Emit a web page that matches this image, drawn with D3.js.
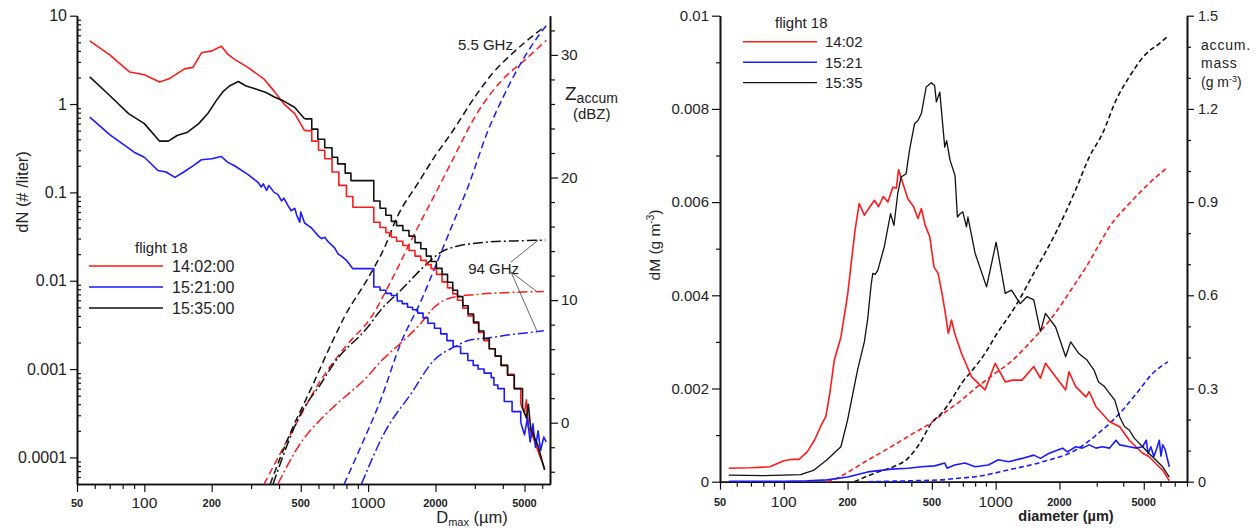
<!DOCTYPE html>
<html>
<head>
<meta charset="utf-8">
<script src="https://cdn.jsdelivr.net/npm/d3@7"></script>
<style>
body{margin:0;background:#fff;}
svg{font-family:"Liberation Sans",Arial,sans-serif;}
.axis path,.axis line{stroke:#111;}
</style>
</head>
<body>
<svg id="chart" width="1258" height="530"></svg>
<script>
// ---- left panel: number concentration (#/liter) vs Dmax (um)
var dnRed = [[57,5.2],[70,3.6],[86,2.3],[100,2.15],[117,1.78],[130,1.95],[151,2.5],[165,2.6],[180,3.8],[200,4.0],[221,4.5],[235,3.7],[253,3.2],[290,2.6],[344,1.9],[380,1.4],[421,1.0],[470,0.78],[520,0.5],[560,0.38],[600,0.3],[640,0.24],[690,0.17],[740,0.12],[800,0.09],[855,0.068],[1032,0.068],[1060,0.046],[1130,0.04],[1200,0.035],[1270,0.031],[1340,0.028],[1430,0.025],[1523,0.022],[1620,0.019],[1720,0.017],[1820,0.0152],[1913,0.0137],[2020,0.0118],[2140,0.0097],[2264,0.0083],[2390,0.0071],[2510,0.006],[2650,0.0049],[2800,0.004],[2960,0.0033],[3120,0.0026],[3290,0.0021],[3480,0.0017],[3700,0.0014],[3930,0.0011],[4200,0.00087],[4500,0.0006],[4810,0.0004],[5000,0.00032],[5100,0.00045],[5200,0.00022],[5510,0.00016],[5800,0.00011],[6150,0.000075]];
var dnBlue = [[57,0.71],[70,0.45],[90,0.285],[100,0.25],[115,0.177],[125,0.17],[137,0.148],[150,0.17],[165,0.2],[180,0.234],[200,0.24],[221,0.255],[235,0.22],[253,0.2],[290,0.16],[322,0.13],[333,0.115],[340,0.125],[352,0.105],[360,0.12],[380,0.1],[395,0.095],[410,0.08],[420,0.086],[440,0.07],[453,0.062],[470,0.066],[480,0.055],[495,0.046],[500,0.06],[520,0.045],[540,0.042],[556,0.04],[576,0.036],[600,0.032],[620,0.03],[640,0.031],[660,0.028],[707,0.0237],[735,0.02],[760,0.019],[800,0.017],[855,0.0137],[1032,0.0137],[1060,0.0085],[1130,0.0078],[1200,0.0072],[1270,0.0068],[1350,0.0059],[1420,0.0055],[1500,0.005],[1580,0.0047],[1665,0.0043],[1760,0.0038],[1850,0.0033],[1980,0.0029],[2110,0.0025],[2250,0.0021],[2400,0.0018],[2590,0.0015],[2790,0.00125],[2950,0.0011],[3100,0.001],[3300,0.0009],[3550,0.0008],[3650,0.00066],[3800,0.0006],[4060,0.00043],[4400,0.00033],[4810,0.00025],[5000,0.00018],[5150,0.00028],[5300,0.00015],[5450,0.00024],[5600,0.00013],[5750,0.0002],[5900,0.00012],[6100,0.00017],[6250,0.00015]];
var dnBlack = [[57,2.03],[70,1.25],[85,0.78],[100,0.6],[117,0.38],[128,0.38],[140,0.44],[156,0.48],[175,0.6],[192,0.78],[210,1.1],[224,1.37],[240,1.6],[263,1.8],[285,1.6],[310,1.5],[350,1.35],[381,1.2],[420,1.08],[469,0.92],[520,0.68],[560,0.52],[596,0.4],[640,0.32],[690,0.25],[731,0.21],[790,0.165],[838,0.136],[1032,0.136],[1060,0.08],[1130,0.066],[1200,0.055],[1270,0.047],[1340,0.042],[1430,0.037],[1523,0.032],[1620,0.027],[1720,0.023],[1820,0.019],[1913,0.0165],[2020,0.0138],[2140,0.0118],[2264,0.0096],[2390,0.0078],[2510,0.0066],[2650,0.0052],[2800,0.0042],[2960,0.0034],[3120,0.0027],[3290,0.0022],[3480,0.0017],[3700,0.0014],[3930,0.0011],[4200,0.00085],[4500,0.0006],[4900,0.00036],[5100,0.00028],[5200,0.0004],[5330,0.00021],[5730,0.000138],[6150,0.000072]];

// accumulated reflectivity (dBZ): 5.5 GHz dashed, 94 GHz dash-dot
var z55Red = [[343,-5],[470,-0.3],[616,3.5],[800,6.3],[1032,8.6],[1270,11.6],[1560,14.9],[1985,18.6],[2350,21.2],[3060,25.2],[3900,27.8],[5100,29.7],[6260,31.2]];
var z55Blue = [[782,-5],[900,-2.5],[1140,1.9],[1400,6.5],[1730,10],[2045,13.2],[2400,16.3],[2790,19.2],[3430,23.8],[4000,26.5],[4670,28.9],[5400,30.8],[6260,32.4]];
var z55Black = [[365,-5],[450,-0.8],[550,2.6],[700,6.8],[782,8.6],[1000,11.8],[1185,14.3],[1350,16.8],[1665,19.5],[2000,21.8],[2350,23.6],[3060,26.8],[3600,28.5],[4340,30],[5000,31],[6150,32.3]];
var z94Red = [[395,-5],[502,-1.6],[616,0.3],[707,1.35],[997,3.8],[1140,5.0],[1400,6.5],[1700,8.0],[1970,9.4],[2350,10.2],[3000,10.45],[4000,10.6],[6100,10.7]];
var z94Blue = [[934,-5],[1185,-0.8],[1560,2.4],[1970,5.1],[2440,6.2],[2800,6.7],[3550,6.95],[4200,7.15],[5510,7.4],[6100,7.5]];
var z94Black = [[376,-5],[502,0.8],[616,3.2],[707,4.9],[997,7.8],[1140,9.2],[1400,10.8],[1840,13.0],[2110,13.9],[2500,14.4],[2880,14.6],[3500,14.75],[5000,14.85],[6200,14.9]];

// ---- right panel: mass distribution (g m-3) vs diameter (um)
var dmRed = [[55,0.00029],[70,0.0003],[86,0.00032],[100,0.00045],[110,0.00048],[118,0.00048],[129,0.00064],[140,0.0009],[149,0.00118],[158,0.0014],[165,0.0019],[173,0.0026],[186,0.0031],[200,0.004],[207,0.0046],[217,0.0054],[227,0.00597],[240,0.00572],[255,0.0059],[268,0.00604],[280,0.0059],[295,0.00612],[310,0.006],[327,0.00632],[340,0.0063],[348,0.0067],[365,0.0064],[385,0.00607],[410,0.0059],[430,0.00565],[446,0.00586],[465,0.0055],[489,0.00525],[512,0.0046],[535,0.00447],[555,0.0041],[575,0.0037],[598,0.00318],[619,0.00347],[641,0.00318],[690,0.00275],[770,0.00225],[891,0.00197],[995,0.00254],[1110,0.00214],[1200,0.00218],[1332,0.00218],[1513,0.00247],[1627,0.00222],[1718,0.00254],[1918,0.00225],[2140,0.00197],[2218,0.00236],[2387,0.00204],[2667,0.00182],[2766,0.00193],[2974,0.00161],[3440,0.00129],[3850,0.00118],[4270,0.00089],[4940,0.00061],[5290,0.00054],[5690,0.00039],[6140,0.00025],[6600,0.00002]];
var dmBlue = [[55,0.00001],[100,0.00001],[129,0.00002],[160,0.00004],[200,0.0001],[249,0.00021],[322,0.00027],[385,0.00029],[446,0.00032],[516,0.00034],[575,0.0004],[590,0.00029],[640,0.00036],[716,0.0004],[800,0.00032],[924,0.00036],[1030,0.00047],[1150,0.00043],[1332,0.0005],[1513,0.00057],[1627,0.0005],[1788,0.00061],[2070,0.00072],[2180,0.00064],[2387,0.00075],[2565,0.00072],[2766,0.00079],[2974,0.00072],[3190,0.00075],[3440,0.00072],[3700,0.00089],[3850,0.00079],[4270,0.00075],[4620,0.00072],[4940,0.00075],[5140,0.00089],[5240,0.0006],[5400,0.00075],[5580,0.00054],[5750,0.0007],[5920,0.00089],[6030,0.00055],[6140,0.00079],[6300,0.0007],[6600,0.00032]];
var dmBlack = [[55,0.00014],[80,0.00013],[100,0.00014],[120,0.00015],[139,0.00025],[160,0.00047],[186,0.00075],[200,0.00132],[212,0.0019],[223,0.0024],[240,0.003],[249,0.0035],[258,0.0042],[263,0.00447],[270,0.00445],[278,0.00454],[298,0.00504],[319,0.00575],[331,0.0055],[345,0.00618],[358,0.00654],[378,0.00661],[392,0.00711],[414,0.00768],[430,0.00775],[446,0.0079],[470,0.00847],[497,0.00856],[515,0.0085],[525,0.00815],[545,0.00836],[575,0.00718],[587,0.00732],[609,0.0069],[643,0.00657],[660,0.00568],[680,0.00575],[700,0.00579],[728,0.00547],[740,0.00568],[800,0.0049],[906,0.00418],[1005,0.00514],[1110,0.00404],[1188,0.00411],[1305,0.00382],[1405,0.00397],[1513,0.0039],[1627,0.00322],[1718,0.00361],[1918,0.00332],[2140,0.00268],[2260,0.003],[2470,0.00275],[2700,0.00261],[2915,0.00239],[3058,0.00214],[3250,0.00205],[3440,0.0019],[3650,0.00175],[3850,0.00139],[4060,0.00118],[4270,0.00111],[4520,0.00093],[4940,0.00075],[5290,0.00061],[5690,0.00047],[6140,0.00032],[6600,0.0001]];

// accumulated mass (g m-3)
var accRed = [[160,0],[180,0.012],[200,0.03],[250,0.07],[322,0.113],[400,0.152],[497,0.19],[555,0.215],[690,0.263],[800,0.3],[1000,0.35],[1150,0.38],[1490,0.456],[1850,0.53],[2387,0.64],[2667,0.69],[3058,0.76],[3440,0.82],[4270,0.895],[5290,0.96],[6500,1.013]];
var accBlue = [[250,0],[400,0.003],[555,0.006],[690,0.012],[800,0.016],[1150,0.038],[1660,0.064],[2387,0.102],[3058,0.156],[3850,0.22],[4620,0.284],[5520,0.349],[6500,0.386]];
var accBlack = [[215,0],[268,0.027],[320,0.045],[385,0.075],[440,0.125],[497,0.188],[555,0.22],[600,0.25],[690,0.316],[800,0.37],[891,0.413],[1000,0.47],[1235,0.563],[1538,0.68],[1918,0.8],[2387,0.94],[2766,1.045],[3190,1.12],[3700,1.228],[4270,1.303],[5140,1.378],[5920,1.41],[6500,1.434]];

// tick labels
var xMajor = [50,100,200,500,1000,2000,5000];
var xBig = [100,1000];
var dnMajor = [0.0001,0.001,0.01,0.1,1,10];
var zMajor = [0,10,20,30];
var dmMajor = [0,0.002,0.004,0.006,0.008,0.01];
var accMajor = [0,0.3,0.6,0.9,1.2,1.5];

var legendLeft = ['14:02:00','15:21:00','15:35:00'];
var legendRight = ['14:02','15:21','15:35'];
var colors = ['#ff1a1a','#1a1aff','#111'];

var svg = d3.select('#chart');

function logMinors(lo, hi){
	var out = [];
	for(var e = Math.floor(Math.log10(lo)); e <= Math.ceil(Math.log10(hi)); e++){
		for(var m = 1; m < 10; m++){
			var v = +(m * Math.pow(10, e)).toPrecision(3);
			if(v >= lo && v <= hi) out.push(v);
		}
	}
	return out;
}

function styleAxis(g, w){
	g.attr('class','axis');
	g.selectAll('path').attr('stroke-width', w || 1.6);
	g.selectAll('line').attr('stroke-width', 1.2);
}

function xLabels(g, scale, y){
	g.selectAll('text.xl').data(xMajor).enter().append('text')
		.attr('class','xl')
		.attr('x', function(d){ return scale(d); })
		.attr('y', function(d){ return xBig.indexOf(d) >= 0 ? y + 1 : y; })
		.attr('text-anchor','middle')
		.attr('font-size', function(d){ return xBig.indexOf(d) >= 0 ? 15.5 : 11; })
		.attr('font-weight', function(d){ return xBig.indexOf(d) >= 0 ? 'normal' : 'bold'; })
		.attr('fill','#222')
		.text(function(d){ return d; });
}

/* ================= left panel ================= */
var xL = d3.scaleLog().domain([50, 6500]).range([77, 550]);
var yN = d3.scaleLog().domain([5e-5, 10]).range([484, 15.7]);
var yZ = d3.scaleLinear().domain([-5, 33.2]).range([484, 15.7]);

var gL = svg.append('g');

var xMinL = logMinors(50, 6500).filter(function(d){ return xMajor.indexOf(d) < 0; });
gL.append('g').attr('transform','translate(0,484)')
	.call(d3.axisBottom(xL).tickValues(xMinL).tickSize(5).tickSizeOuter(0).tickFormat(''))
	.call(styleAxis);
gL.append('g').attr('transform','translate(0,484)')
	.call(d3.axisBottom(xL).tickValues(xMajor).tickSize(8).tickSizeOuter(0).tickFormat(''))
	.call(styleAxis);
xLabels(gL, xL, 507);

var yMinL = logMinors(5e-5, 10).filter(function(d){ return dnMajor.indexOf(d) < 0; });
gL.append('g').attr('transform','translate(77,0)')
	.call(d3.axisLeft(yN).tickValues(yMinL).tickSize(-4).tickSizeOuter(0).tickFormat(''))
	.call(styleAxis);
gL.append('g').attr('transform','translate(77,0)')
	.call(d3.axisLeft(yN).tickValues(dnMajor).tickSize(7).tickSizeOuter(0).tickPadding(3)
		.tickFormat(function(d){ return String(d); }))
	.call(styleAxis)
	.selectAll('text').attr('font-size', 16).attr('fill','#222').attr('font-family','"Liberation Sans",Arial,sans-serif');

var zMinor = d3.range(-4, 33, 2).filter(function(d){ return d % 10 !== 0; });
gL.append('g').attr('transform','translate(550,0)')
	.call(d3.axisRight(yZ).tickValues(zMinor).tickSize(5).tickSizeOuter(0).tickFormat(''))
	.call(styleAxis);
gL.append('g').attr('transform','translate(550,0)')
	.call(d3.axisRight(yZ).tickValues(zMajor).tickSize(8).tickSizeOuter(0).tickPadding(3))
	.call(styleAxis)
	.selectAll('text').attr('font-size', 15).attr('fill','#222').attr('font-family','"Liberation Sans",Arial,sans-serif');

var lineN = d3.line().x(function(d){ return xL(d[0]); }).y(function(d){ return yN(d[1]); });
var stepN = d3.line().curve(d3.curveStepAfter).x(function(d){ return xL(d[0]); }).y(function(d){ return yN(d[1]); });
var lineZ = d3.line().curve(d3.curveMonotoneX).x(function(d){ return xL(d[0]); }).y(function(d){ return yZ(d[1]); });

// size spectra: smooth at small sizes, binned steps at the large end
function drawSpectrum(s, color, from, to){
	var head = s.filter(function(d){ return d[0] <= from; });
	var mid = s.filter(function(d){ return d[0] >= from && d[0] <= to; });
	var tail = s.filter(function(d){ return d[0] >= to; });
	[[head, lineN], [mid, stepN], [tail, lineN]].forEach(function(p){
		gL.append('path').datum(p[0]).attr('d', p[1]).attr('fill','none')
			.attr('stroke', color).attr('stroke-width', 1.6).attr('stroke-linejoin','round');
	});
}

[z55Red, z55Blue, z55Black].forEach(function(s, i){
	gL.append('path').datum(s).attr('d', lineZ).attr('fill','none')
		.attr('stroke', colors[i]).attr('stroke-width', 1.5).attr('stroke-dasharray','7,4');
});
[z94Red, z94Blue, z94Black].forEach(function(s, i){
	gL.append('path').datum(s).attr('d', lineZ).attr('fill','none')
		.attr('stroke', colors[i]).attr('stroke-width', 1.5).attr('stroke-dasharray','10,3,2,3');
});
drawSpectrum(dnRed, colors[0], 520, 4810);
drawSpectrum(dnBlue, colors[1], 1032, 4810);
drawSpectrum(dnBlack, colors[2], 520, 4900);

// 94 GHz leaders
var leaderEnds = [z94Black, z94Red, z94Blue].map(function(s){ return s[s.length - 1]; });
leaderEnds.forEach(function(p, i){
	gL.append('line')
		.attr('x1', xL(4350)).attr('y1', yZ(i === 0 ? 13.1 : 12.3))
		.attr('x2', xL(p[0] * 0.93)).attr('y2', yZ(p[1]))
		.attr('stroke','#555').attr('stroke-width', 0.9);
});
gL.append('text').attr('x', xL(2800)).attr('y', yZ(12.1)).attr('font-size', 15).attr('fill','#222').text('94 GHz');
gL.append('text').attr('x', xL(2520)).attr('y', yZ(30.4)).attr('font-size', 15).attr('fill','#222').text('5.5 GHz');

// axis titles
gL.append('text').attr('transform','translate(28,192) rotate(-90)').attr('text-anchor','middle')
	.attr('font-size', 16.5).attr('fill','#222').text('dN (# /liter)');
var zt = gL.append('text').attr('x', 565).attr('y', 100).attr('fill','#222');
zt.append('tspan').attr('font-size', 19).text('Z');
zt.append('tspan').attr('font-size', 14).attr('dy', 3).text('accum');
gL.append('text').attr('x', 573).attr('y', 119).attr('font-size', 15).attr('fill','#222').text('(dBZ)');
var dt = gL.append('text').attr('x', 472).attr('y', 523).attr('text-anchor','middle').attr('fill','#222').attr('font-size', 16.5);
dt.append('tspan').text('D');
dt.append('tspan').attr('font-size', 11).attr('dy', 3).text('max');
dt.append('tspan').attr('dy', -3).text(' (\u00b5m)');

// legend
gL.append('text').attr('x', 135).attr('y', 253).attr('font-size', 15).attr('fill','#222').text('flight 18');
legendLeft.forEach(function(t, i){
	var y = 266 + i * 21;
	gL.append('line').attr('x1', 89).attr('x2', 163).attr('y1', y).attr('y2', y)
		.attr('stroke', colors[i]).attr('stroke-width', 1.6);
	gL.append('text').attr('x', 172).attr('y', y + 6).attr('font-size', 16).attr('fill','#222').text(t);
});

/* ================= right panel ================= */
var xR = d3.scaleLog().domain([50, 8000]).range([720, 1187]);
var yM = d3.scaleLinear().domain([0, 0.01]).range([481.7, 15.7]);
var yA = d3.scaleLinear().domain([0, 1.5]).range([481.7, 15.7]);

var gR = svg.append('g');

var xMinR = logMinors(50, 8000).filter(function(d){ return xMajor.indexOf(d) < 0; });
gR.append('g').attr('transform','translate(0,481.7)')
	.call(d3.axisBottom(xR).tickValues(xMinR).tickSize(5).tickSizeOuter(0).tickFormat(''))
	.call(styleAxis);
gR.append('g').attr('transform','translate(0,481.7)')
	.call(d3.axisBottom(xR).tickValues(xMajor).tickSize(8).tickSizeOuter(0).tickFormat(''))
	.call(styleAxis);
xLabels(gR, xR, 506);

var dmMinor = d3.range(1, 10, 2).map(function(d){ return d / 1000; });
gR.append('g').attr('transform','translate(720,0)')
	.call(d3.axisLeft(yM).tickValues(dmMinor).tickSize(4).tickSizeOuter(0).tickFormat(''))
	.call(styleAxis);
gR.append('g').attr('transform','translate(720,0)')
	.call(d3.axisLeft(yM).tickValues(dmMajor).tickSize(8).tickSizeOuter(0).tickPadding(3)
		.tickFormat(function(d){ return d === 0 ? '0' : String(d); }))
	.call(styleAxis)
	.selectAll('text').attr('font-size', 15).attr('fill','#222').attr('font-family','"Liberation Sans",Arial,sans-serif');

var accMinor = d3.range(1, 15).filter(function(d){ return d % 3 !== 0; }).map(function(d){ return d / 10; });
gR.append('g').attr('transform','translate(1187,0)')
	.call(d3.axisRight(yA).tickValues(accMinor).tickSize(4).tickSizeOuter(0).tickFormat(''))
	.call(styleAxis);
gR.append('g').attr('transform','translate(1187,0)')
	.call(d3.axisRight(yA).tickValues(accMajor).tickSize(7).tickSizeOuter(0).tickPadding(4)
		.tickFormat(function(d){ return d === 0 ? '0' : d.toFixed(1); }))
	.call(styleAxis)
	.selectAll('text').attr('font-size', 14.5).attr('fill','#222').attr('font-family','"Liberation Sans",Arial,sans-serif');

var lineM = d3.line().x(function(d){ return xR(d[0]); }).y(function(d){ return yM(d[1]); });
var lineA = d3.line().curve(d3.curveMonotoneX).x(function(d){ return xR(d[0]); }).y(function(d){ return yA(d[1]); });

[accRed, accBlue, accBlack].forEach(function(s, i){
	gR.append('path').datum(s).attr('d', lineA).attr('fill','none')
		.attr('stroke', colors[i]).attr('stroke-width', 1.6).attr('stroke-dasharray','5,3');
});
[dmRed, dmBlue, dmBlack].forEach(function(s, i){
	gR.append('path').datum(s).attr('d', lineM).attr('fill','none')
		.attr('stroke', colors[i]).attr('stroke-width', i === 2 ? 1.3 : 1.6).attr('stroke-linejoin','round');
});

gR.append('text').attr('transform','translate(660,245) rotate(-90)').attr('text-anchor','middle')
	.attr('font-size', 15.5).attr('fill','#222')
	.call(function(t){
		t.append('tspan').text('dM  (g m');
		t.append('tspan').attr('font-size', 10).attr('dy', -6).text('-3');
		t.append('tspan').attr('dy', 6).text(')');
	});
gR.append('text').attr('x', 1066).attr('y', 521).attr('text-anchor','middle')
	.attr('font-size', 14.5).attr('font-weight','bold').attr('fill','#222').text('diameter (\u00b5m)');
gR.append('text').attr('x', 1201).attr('y', 50).attr('font-size', 14).attr('letter-spacing', 0.8).attr('fill','#222').text('accum.');
gR.append('text').attr('x', 1201).attr('y', 68).attr('font-size', 14).attr('letter-spacing', 0.8).attr('fill','#222').text('mass');
gR.append('text').attr('x', 1201).attr('y', 87).attr('font-size', 14).attr('fill','#222')
	.call(function(t){
		t.append('tspan').text('(g m');
		t.append('tspan').attr('font-size', 9).attr('dy', -5).text('-3');
		t.append('tspan').attr('dy', 5).text(')');
	});

gR.append('text').attr('x', 775).attr('y', 28).attr('font-size', 15).attr('fill','#222').text('flight 18');
legendRight.forEach(function(t, i){
	var y = 41.7 + i * 20.5;
	gR.append('line').attr('x1', 743).attr('x2', 817).attr('y1', y).attr('y2', y)
		.attr('stroke', colors[i]).attr('stroke-width', i === 2 ? 1.2 : 1.6);
	gR.append('text').attr('x', 825).attr('y', y + 5.5).attr('font-size', 15).attr('fill','#222').text(t);
});
</script>
</body>
</html>
